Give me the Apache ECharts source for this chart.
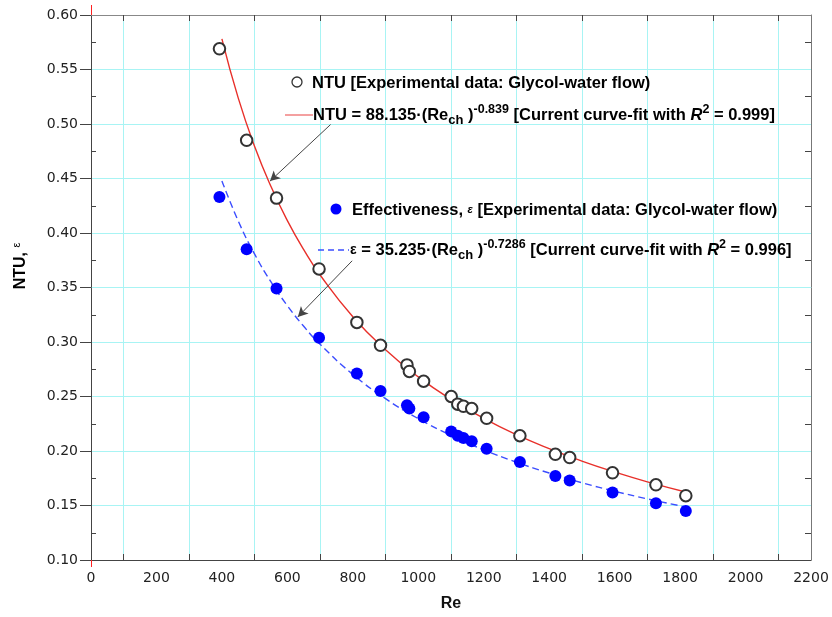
<!DOCTYPE html>
<html><head><meta charset="utf-8">
<script src="https://cdn.jsdelivr.net/npm/echarts@6/dist/echarts.min.js"></script>
<style>html,body{margin:0;padding:0;background:#fff}#c{width:832px;height:617px}</style>
</head><body><div id="c"></div>
<script>
const reData = [392.5,475.6,566.9,696.8,812.4,884.6,965.5,972.8,1016.3,1100.6,1120.7,1138,1163.3,1208.9,1310.5,1418.9,1462.7,1593.5,1726.2,1817.5];
const ntuData = [0.569,0.485,0.432,0.367,0.318,0.297,0.279,0.273,0.264,0.250,0.243,0.241,0.239,0.230,0.214,0.197,0.194,0.180,0.169,0.159];
const effData = [0.433,0.385,0.349,0.304,0.271,0.255,0.242,0.239,0.231,0.218,0.214,0.212,0.209,0.202,0.190,0.177,0.173,0.162,0.152,0.145];
// Curve-fit lines
const fitRe = [400,450,500,550,600,650,700,800,900,1000,1100,1200,1300,1400,1500,1600,1700,1820];
const ntuFit = [0.5781,0.5237,0.4794,0.4426,0.4114,0.3847,0.3615,0.3232,0.2928,0.2680,0.2474,0.2300,0.2150,0.2021,0.1907,0.1807,0.1717,0.1622];
const effFit = [0.4478,0.4110,0.3806,0.3551,0.3333,0.3144,0.2979,0.2703,0.2480,0.2297,0.2143,0.2011,0.1897,0.1798,0.1709,0.1631,0.1561,0.1485];
// Ticks
const xMinorTicks = [100,300,500,700,900,1100,1300,1500,1700,1900,2100];
const yMinorTicks = [0.125,0.175,0.225,0.275,0.325,0.375,0.425,0.475,0.525,0.575];

const zip = (a,b) => a.map((v,i)=>[v,b[i]]);
const FONT = '"Liberation Sans", Arial, sans-serif';
const TICKFONT = '"DejaVu Sans", sans-serif';
const chart = echarts.init(document.getElementById('c'));
const gridColor = '#a8f4f4';
const FS = 16.5;
const T = {fontFamily: FONT, fontWeight: 'bold', fontSize: FS, color: '#111', lineHeight: 24};
const SUP = {fontFamily: FONT, fontWeight: 'bold', fontSize: 12.5, color: '#111', lineHeight: 10, verticalAlign: 'top'};
const SUB = {fontFamily: FONT, fontWeight: 'bold', fontSize: 13, color: '#111', lineHeight: 10, verticalAlign: 'bottom'};
const IT = Object.assign({}, T, {fontStyle: 'italic'});
const EPS = {fontFamily: FONT, fontWeight: 'bold', fontSize: 11, color: '#111', fontStyle: 'italic', lineHeight: 24};
const hiddenAxis = {axisLine: {show: false}, axisLabel: {show: false}, splitLine: {show: false}};

chart.setOption({
  animation: false,
  grid: {left: 91, right: 21, top: 15, bottom: 55},
  xAxis: [{
    type: 'value', min: 0, max: 2200, interval: 200,
    name: 'Re', nameLocation: 'middle', nameGap: 36,
    nameTextStyle: {fontFamily: FONT, fontWeight: 'bold', fontSize: 16, color: '#111'},
    axisLine: {show: true, onZero: false, lineStyle: {color: '#444', width: 1}},
    axisTick: {show: true, inside: true, length: 6, customValues: xMinorTicks, lineStyle: {color: '#444'}},
    axisLabel: {fontFamily: TICKFONT, fontSize: 14, color: '#222', margin: 11, formatter: v => String(v)},
    splitLine: {show: true, lineStyle: {color: gridColor, width: 1}}
  }, {
    type: 'value', min: 0, max: 2200, position: 'top',
    axisLine: {show: true, onZero: false, lineStyle: {color: '#888'}},
    axisTick: {show: true, inside: true, length: 6, customValues: xMinorTicks, lineStyle: {color: '#444'}},
    axisLabel: {show: false}, splitLine: {show: false}
  }, Object.assign({
    type: 'value', min: 0, max: 2200, position: 'bottom',
    axisTick: {show: true, inside: false, length: 7, customValues: [0], lineStyle: {color: '#ff2020'}}
  }, hiddenAxis), Object.assign({
    type: 'value', min: 0, max: 2200, position: 'top',
    axisTick: {show: true, inside: false, length: 10, customValues: [0], lineStyle: {color: '#ff2020'}}
  }, hiddenAxis)],
  yAxis: [{
    type: 'value', min: 0.10, max: 0.60, interval: 0.05,
    axisLine: {show: true, onZero: false, lineStyle: {color: '#444', width: 1}},
    axisTick: {show: true, inside: false, length: 11, lineStyle: {color: '#444'}},
    axisLabel: {fontFamily: TICKFONT, fontSize: 14, color: '#222', margin: 13, formatter: v => v.toFixed(2)},
    splitLine: {show: true, lineStyle: {color: gridColor, width: 1}}
  }, Object.assign({
    type: 'value', min: 0.10, max: 0.60, position: 'left',
    axisTick: {show: true, inside: true, length: 5, customValues: yMinorTicks, lineStyle: {color: '#444'}}
  }, hiddenAxis), {
    type: 'value', min: 0.10, max: 0.60, position: 'right',
    axisLine: {show: true, onZero: false, lineStyle: {color: '#777'}},
    axisTick: {show: true, inside: true, length: 6, customValues: yMinorTicks, lineStyle: {color: '#444'}},
    axisLabel: {show: false}, splitLine: {show: false}
  }],
  series: [{
    type: 'line', data: zip(fitRe, ntuFit), smooth: true, showSymbol: false, symbol: 'none',
    lineStyle: {color: '#e8302a', width: 1.4}, z: 2,
    markLine: {silent: true, symbol: ['none', 'arrow'], symbolSize: [8, 10],
      lineStyle: {color: '#444', width: 1, type: 'solid'}, label: {show: false},
      data: [[{coord: [732, 0.4995]}, {coord: [547, 0.4476]}]]}
  }, {
    type: 'line', data: zip(fitRe, effFit), smooth: true, showSymbol: false, symbol: 'none',
    lineStyle: {color: '#3b4dff', width: 1.4, type: [7, 4]}, z: 2,
    markLine: {silent: true, symbol: ['none', 'arrow'], symbolSize: [8, 10],
      lineStyle: {color: '#444', width: 1, type: 'solid'}, label: {show: false},
      data: [[{coord: [798, 0.3745]}, {coord: [632, 0.3230]}]]}
  }, {
    type: 'scatter', data: zip(reData, ntuData), symbol: 'emptyCircle', symbolSize: 11.5,
    itemStyle: {color: '#333', borderColor: '#333', borderWidth: 1.4, opacity: 1}, z: 3
  }, {
    type: 'scatter', data: zip(reData, effData), symbol: 'circle', symbolSize: 12,
    itemStyle: {color: '#0000ff', opacity: 1}, z: 3
  }],
  graphic: [
    {type: 'text', x: 21, y: 266, rotation: Math.PI / 2, z: 10, style: {
      text: '{a|NTU, }{s|ε}', align: 'center', verticalAlign: 'middle',
      rich: {a: {fontFamily: FONT, fontWeight: 'bold', fontSize: 16, color: '#111', lineHeight: 20},
             s: {fontFamily: FONT, fontSize: 11, color: '#111', lineHeight: 10, verticalAlign: 'top'}}}},
    {type: 'circle', shape: {cx: 297, cy: 82, r: 5}, style: {fill: '#fff', stroke: '#333', lineWidth: 1.3}, z: 10},
    {type: 'text', x: 312, y: 83, z: 10, style: {text: '{a|NTU [Experimental data: Glycol-water flow)}', rich: {a: T}, verticalAlign: 'middle'}},
    {type: 'line', shape: {x1: 285, y1: 115, x2: 313, y2: 115}, style: {stroke: '#f08080', lineWidth: 1.5}, z: 10},
    {type: 'text', x: 313, y: 115, z: 10, style: {
      text: '{a|NTU = 88.135·(Re}{sub|ch}{a| )}{sup|-0.839}{a| [Current curve-fit with }{i|R}{sup|2}{a| = 0.999]}',
      rich: {a: T, sub: SUB, sup: SUP, i: IT}, verticalAlign: 'middle'}},
    {type: 'circle', shape: {cx: 336, cy: 209, r: 5.5}, style: {fill: '#0000ff'}, z: 10},
    {type: 'text', x: 352, y: 210, z: 10, style: {
      text: '{a|Effectiveness, }{e|ε}{a| [Experimental data: Glycol-water flow)}',
      rich: {a: T, e: EPS}, verticalAlign: 'middle'}},
    {type: 'line', shape: {x1: 318, y1: 250, x2: 349, y2: 250}, style: {stroke: '#3b4dff', lineWidth: 1.3, lineDash: [6, 4]}, z: 10},
    {type: 'text', x: 350, y: 250, z: 10, style: {
      text: '{b|ε}{a| = 35.235·(Re}{sub|ch}{a| )}{sup|-0.7286}{a| [Current curve-fit with }{i|R}{sup|2}{a| = 0.996]}',
      rich: {a: T, b: Object.assign({}, T, {fontSize: 14}), sub: SUB, sup: SUP, i: IT}, verticalAlign: 'middle'}}
  ]
});
</script></body></html>
